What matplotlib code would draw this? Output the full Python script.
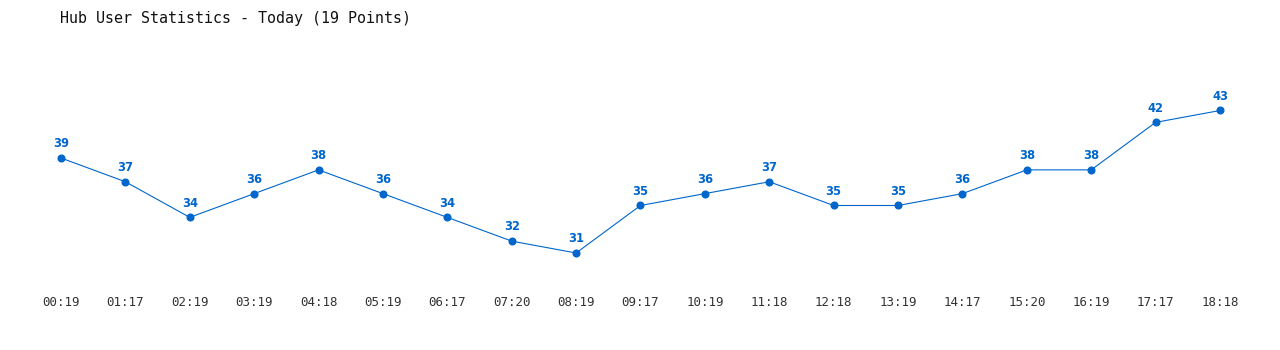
import matplotlib
matplotlib.use("Agg")
import matplotlib.pyplot as plt

# Data
times = ["00:19", "01:17", "02:19", "03:19", "04:18", "05:19", "06:17", "07:20", "08:19", "09:17",
         "10:19", "11:18", "12:18", "13:19", "14:17", "15:20", "16:19", "17:17", "18:18"]
users = [39, 37, 34, 36, 38, 36, 34, 32, 31, 35, 36, 37, 35, 35, 36, 38, 38, 42, 43]

blue = "#0066cc"

fig = plt.figure(figsize=(12.8, 3.5), dpi=100)
ax = fig.add_axes([0, 60 / 350, 1, 290 / 350])

x = list(range(len(users)))
ax.plot(x, users, color=blue, lw=0.8, marker="o", markersize=4.8)

for xi, v in zip(x, users):
    ax.annotate(str(v), (xi, v), xytext=(0, 5.5), textcoords="offset points",
                ha="center", va="bottom", fontsize=8.3, fontweight="bold", color=blue)

ax.set_xlim(-61 / 64.39, 18 + 60 / 64.39)
ax.set_ylim(27.884, 52.305)
ax.set_xticks(x)
ax.set_xticklabels(times, family="DejaVu Sans Mono", fontsize=9, color="#333333")
ax.tick_params(axis="x", length=0, pad=4)
ax.set_yticks([])
for s in ax.spines.values():
    s.set_visible(False)

fig.text(60 / 1280, 1 - 18 / 350, "Hub User Statistics - Today (19 Points)",
         family="DejaVu Sans Mono", fontsize=10.8, color="#111111", va="center", ha="left")

fig.savefig("out.png", dpi=100)
